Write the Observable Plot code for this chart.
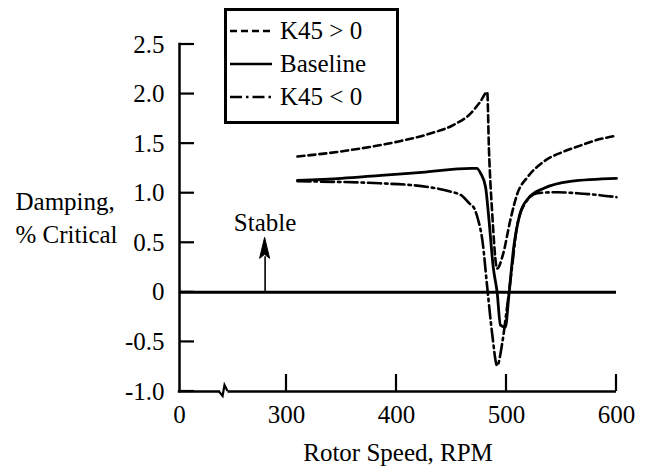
<!DOCTYPE html>
<html>
<head>
<meta charset="utf-8">
<script src="https://cdn.jsdelivr.net/npm/d3@7"></script>
<script src="https://cdn.jsdelivr.net/npm/@observablehq/plot@0.6"></script>
<style>
  html, body { margin: 0; padding: 0; background: #fff; }
  #wrap { position: relative; width: 648px; height: 473px; font-family: "Liberation Serif", "Times New Roman", serif; color: #000; }
  #legend { position: absolute; left: 224px; top: 8px; width: 175px; height: 116px; box-sizing: border-box; border: 3px solid #000; background: #fff; }
  .row { position: absolute; left: 2px; height: 30px; display: flex; align-items: center; font-size: 25px; white-space: nowrap; }
  .row svg { margin-right: 7px; }
</style>
</head>
<body>
<div id="wrap"><div id="legend"></div></div>
<script>
// ---- data ----
const speedPos = [310, 355, 401, 430, 452, 467, 476, 482.5, 484, 487, 491.5, 497, 503.5, 510, 519, 534, 552, 567, 580, 600];
const dampPos  = [1.37, 1.43, 1.52, 1.60, 1.69, 1.80, 1.92, 2.02, 1.46, 0.80, 0.24, 0.39, 0.73, 1.00, 1.16, 1.32, 1.42, 1.48, 1.53, 1.58];

const speedBase = [310, 350, 386, 423, 468, 473, 476.5, 481, 483.5, 488, 491.5, 494.5, 499, 502, 506.5, 512.5, 520, 534, 558, 600];
const dampBase  = [1.13, 1.15, 1.18, 1.21, 1.25, 1.25, 1.20, 1.06, 0.80, 0.25, 0.00, -0.33, -0.35, -0.05, 0.45, 0.80, 0.95, 1.05, 1.12, 1.15];

const speedNeg = [310, 385, 430, 448, 460, 466, 471, 474, 478, 482.5, 487, 491.5, 496, 500.5, 505, 509.5, 517, 528, 546, 564, 585, 600];
const dampNeg  = [1.12, 1.10, 1.06, 1.02, 0.97, 0.90, 0.84, 0.74, 0.53, 0.05, -0.42, -0.74, -0.52, -0.15, 0.25, 0.66, 0.90, 1.00, 1.01, 1.00, 0.98, 0.96];

const seriesNames = ["K45 > 0", "Baseline", "K45 < 0"];

const xTickValues = [0, 300, 400, 500, 600];
const xTickLabels = ["0", "300", "400", "500", "600"];
const yTickValues = [-1, -0.5, 0, 0.5, 1, 1.5, 2, 2.5];
const yTickLabels = ["-1.0", "-0.5", "0", "0.5", "1.0", "1.5", "2.0", "2.5"];

const xDomain = [0, 300, 600];      // broken axis: 0 | break | 300..600
const yDomain = [-1, 2.5];
const axisBreak = [111, 136];       // where the x axis line is interrupted

const stableLabel = ["Stable"];
const stableX = [240];
const stableTip = [0.55];
const stableBase = [0.36];

const xLabel = ["Rotor Speed, RPM"];
const yLabelLines = ["Damping,", "% Critical"];

// ---- layout ----
const W = 648, H = 473;
const mL = 179, mR = 32, mT = 44, mB = 82;
const x300px = 286;
const FS = 25;

const rows = (xs, ys) => xs.map((s, i) => ({speed: s, damp: ys[i]}));

const dashPos = "7,4";
const dashNeg = "13,4,2.5,4";

function decorations(index, scales) {
  const x = scales.x, y = scales.y;
  const g = d3.create("svg:g").attr("fill", "none").attr("stroke", "black");
  const y0 = y(yDomain[0]);
  const x0 = x(xDomain[0]);
  for (const v of xTickValues) {
    if (v === xDomain[0]) continue;
    g.append("line").attr("x1", x(v)).attr("x2", x(v)).attr("y1", y0).attr("y2", y0 - 17).attr("stroke-width", 2.2);
  }
  for (const v of yTickValues) {
    g.append("line").attr("x1", x0).attr("x2", x0 + 15).attr("y1", y(v)).attr("y2", y(v)).attr("stroke-width", 2.2);
  }
  const a = x(axisBreak[0]), b = x(axisBreak[1]);
  g.append("path")
    .attr("d", `M${a},${y0} L${a + 4},${y0 + 5} L${b - 3},${y0 - 6} L${b},${y0}`)
    .attr("stroke-width", 2.2).attr("stroke-linejoin", "miter");
  const ax = x(stableX[0]), ay = y(stableTip[0]);
  g.append("path")
    .attr("d", `M${ax},${ay} L${ax - 5},${ay + 21} L${ax},${ay + 17} L${ax + 5},${ay + 21} Z`)
    .attr("fill", "black").attr("stroke-width", 1);
  return g.node();
}

const chart = Plot.plot({
  width: W, height: H,
  marginLeft: mL, marginRight: mR, marginTop: mT, marginBottom: mB,
  style: {fontFamily: "'Liberation Serif', 'Times New Roman', serif", fontSize: FS + "px", background: "white", color: "black", overflow: "visible"},
  x: {type: "linear", domain: xDomain, range: [mL, x300px, W - mR], ticks: xTickValues,
      tickFormat: d => xTickLabels[xTickValues.indexOf(d)], tickSize: 0, tickPadding: 14, label: null},
  y: {domain: yDomain, ticks: yTickValues,
      tickFormat: d => yTickLabels[yTickValues.indexOf(d)], tickSize: 0, tickPadding: 15, label: null},
  marks: [
    Plot.ruleY([0], {strokeWidth: 3}),
    Plot.ruleX([xDomain[0]], {strokeWidth: 2.5, strokeLinecap: "square"}),
    Plot.ruleY([yDomain[0]], {x1: xDomain[0], x2: axisBreak[0], strokeWidth: 2.5, strokeLinecap: "square"}),
    Plot.ruleY([yDomain[0]], {x1: axisBreak[1], x2: xDomain[2], strokeWidth: 2.5}),
    Plot.line(rows(speedPos, dampPos), {x: "speed", y: "damp", stroke: "black", strokeWidth: 2.6, strokeDasharray: dashPos, curve: "monotone-x"}),
    Plot.line(rows(speedBase, dampBase), {x: "speed", y: "damp", stroke: "black", strokeWidth: 2.8, curve: "monotone-x"}),
    Plot.line(rows(speedNeg, dampNeg), {x: "speed", y: "damp", stroke: "black", strokeWidth: 2.6, strokeDasharray: dashNeg, curve: "monotone-x"}),
    Plot.ruleX(stableX, {x: d => d, y1: 0, y2: stableBase[0], strokeWidth: 1.6}),
    Plot.text(stableLabel, {x: stableX, y: stableTip, dy: -15, fontSize: FS}),
    Plot.text([yLabelLines[0]], {frameAnchor: "left", textAnchor: "start", dx: -(mL - 15), dy: -16, fontSize: FS}),
    Plot.text([yLabelLines[1]], {frameAnchor: "left", textAnchor: "start", dx: -(mL - 15), dy: 17, fontSize: FS}),
    Plot.text(xLabel, {frameAnchor: "bottom", dy: 69, fontSize: FS}),
    decorations
  ]
});
document.getElementById("wrap").prepend(chart);

// ---- legend ----
const legend = document.getElementById("legend");
const legendDash = [dashPos, null, "12,4,2.5,4"];
seriesNames.forEach((name, i) => {
  const row = document.createElement("div");
  row.className = "row";
  row.style.top = (5 + i * 33) + "px";
  const dash = legendDash[i] ? `stroke-dasharray="${legendDash[i]}"` : "";
  row.innerHTML = `<svg width="44" height="10"><line x1="1" y1="5" x2="43" y2="5" stroke="black" stroke-width="2.6" ${dash}/></svg><span>${name.replace(">", "&gt;").replace("<", "&lt;")}</span>`;
  legend.appendChild(row);
});
</script>
</body>
</html>
